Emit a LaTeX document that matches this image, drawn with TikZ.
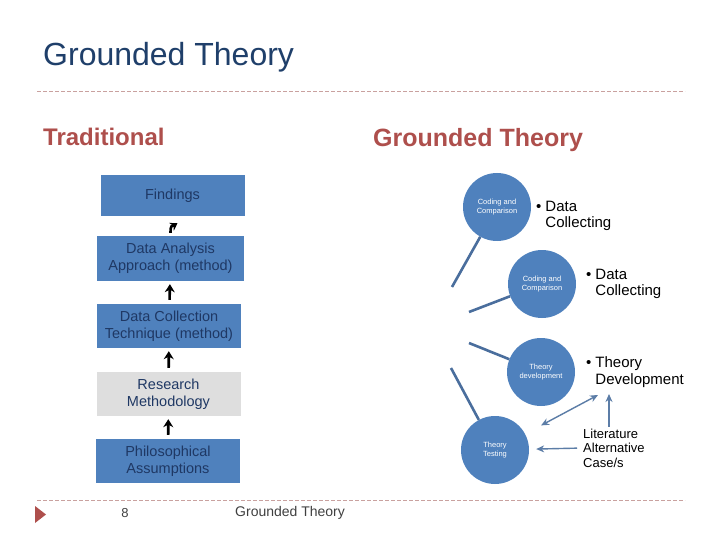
\documentclass[tikz,border=0pt]{standalone}
\usepackage{fontspec}
\setmainfont{Liberation Sans}
\usepackage{tikz}
\usetikzlibrary{arrows, arrows.meta, shapes, positioning, calc}
\definecolor{titleblue}{HTML}{1F3F6A}
\definecolor{headred}{HTML}{AE4F4C}
\definecolor{boxblue}{HTML}{4F81BD}
\definecolor{boxtext}{HTML}{1F3864}
\definecolor{rulered}{HTML}{C9A19F}
\definecolor{linkblue}{HTML}{4A6E9D}
\definecolor{footgray}{HTML}{404040}
\newcommand{\bulletpair}[2]{\begin{tabular}{@{}l@{\hspace{4pt}}l@{}}\textbullet & #1\\ & #2\end{tabular}}

\begin{document}
\begin{tikzpicture}[
		x=1pt, y=-1pt,
		tradbox/.style={
				fill=boxblue,
				text=boxtext,
				align=center,
				minimum width=144pt,
				minimum height=44pt,
				inner sep=2pt,
				font=\fontsize{14.5}{17}\selectfont
			},
		gtcircle/.style={
				circle,
				fill=boxblue,
				minimum size=68pt,
				inner sep=0pt,
				text=white,
				align=center,
				font=\fontsize{7.5}{9}\selectfont
			},
		bullettext/.style={anchor=west, inner sep=0pt, font=\fontsize{15}{16.5}\selectfont},
		uparrow/.style={->, >={Stealth[length=8pt, width=10pt]}, line width=2.6pt, shorten <=4pt, shorten >=3pt},
		link/.style={linkblue, line width=2.6pt},
		thinarrow/.style={->, >={Stealth[length=8pt, width=7pt]}, draw=linkblue!90, fill=linkblue!90, line width=1.4pt},
		rule/.style={rulered, line width=0.7pt, dash pattern=on 4pt off 2pt}
	]
	\path[use as bounding box, fill=white] (0,0) rectangle (720,540);

	% title and headings
	\node[anchor=base west, inner sep=0pt, text=titleblue, font=\fontsize{32}{38}\selectfont] (title) at (43,66) {Grounded Theory};
	\draw[rule] (37,91) -- (685,91);
	\node[anchor=base west, inner sep=0pt, text=headred, font=\bfseries\fontsize{24}{28}\selectfont] (trad) at (43,146) {Traditional};
	\node[anchor=base west, inner sep=0pt, text=headred, font=\bfseries\fontsize{25}{28}\selectfont] (gthead) at (373,147) {Grounded Theory};

	% traditional stack
	\node[tradbox, minimum height=41pt] (findings) at (172.5,195.5) {Findings};
	\node[tradbox, minimum width=147pt, minimum height=45pt] (analysis) at (170.5,258.5) {Data Analysis\\Approach (method)};
	\node[tradbox] (collection) at (169,326) {Data Collection\\Technique (method)};
	\node[tradbox, fill=black!13] (research) at (168.5,394) {Research\\Methodology};
	\node[tradbox] (philosophy) at (168,461) {Philosophical\\Assumptions};

	\draw[->, >={Stealth[length=7pt, width=9pt]}, line width=2.6pt] ([yshift=3pt]analysis.north) .. controls +(0,9pt) and +(-5pt,-3pt) .. ([xshift=5pt, yshift=-7pt]findings.south);
	\draw[uparrow] (collection) -- (analysis);
	\draw[uparrow] (research) -- (collection);
	\draw[uparrow] (philosophy) -- (research);

	% grounded theory circles
	\node[gtcircle] (code1) at (497,207) {Coding and\\Comparison};
	\node[gtcircle] (code2) at (542,284) {Coding and\\Comparison};
	\node[gtcircle] (develop) at (541,372) {Theory\\development};
	\node[gtcircle] (testing) at (495,450) {Theory\\Testing};

	\node[bullettext] (collect1) at (536,216) {\bulletpair{Data}{Collecting}};
	\node[bullettext] (collect2) at (586,284) {\bulletpair{Data}{Collecting}};
	\node[bullettext] (tdev) at (586,372.5) {\bulletpair{Theory}{Development}};

	\coordinate (end1) at (452,287);
	\coordinate (end2) at (469,312);
	\coordinate (end3) at (469,343);
	\coordinate (end4) at (451,368);
	\draw[link] (code1) -- (end1);
	\draw[link] (code2) -- (end2);
	\draw[link] (end3) -- (develop);
	\draw[link] (end4) -- (testing);

	\node[anchor=west, inner sep=0pt, align=left, font=\fontsize{13}{14.5}\selectfont] (lit) at (583,448) {Literature\\Alternative\\Case/s};
	\coordinate (tdfoot) at (598,395);
	\coordinate (tdup) at (609,394);
	\draw[thinarrow, <->, shorten <=18pt] (testing) -- (tdfoot);
	\draw[thinarrow, shorten <=2pt] (lit.north -| tdup) -- (tdup);
	\draw[thinarrow, shorten <=6pt, shorten >=7pt] (lit.west) -- (testing);

	% footer
	\draw[rule] (37,500) -- (685,500);
	\fill[headred] (35,506) -- (35,523) -- (46,514.5) -- cycle;
	\node[text=footgray, font=\fontsize{13}{15}\selectfont] (pagenum) at (125,513) {8};
	\node[anchor=west, inner sep=0pt, text=footgray, font=\fontsize{14}{15}\selectfont] (foottitle) at (235,513) {Grounded Theory};
\end{tikzpicture}
\end{document}
